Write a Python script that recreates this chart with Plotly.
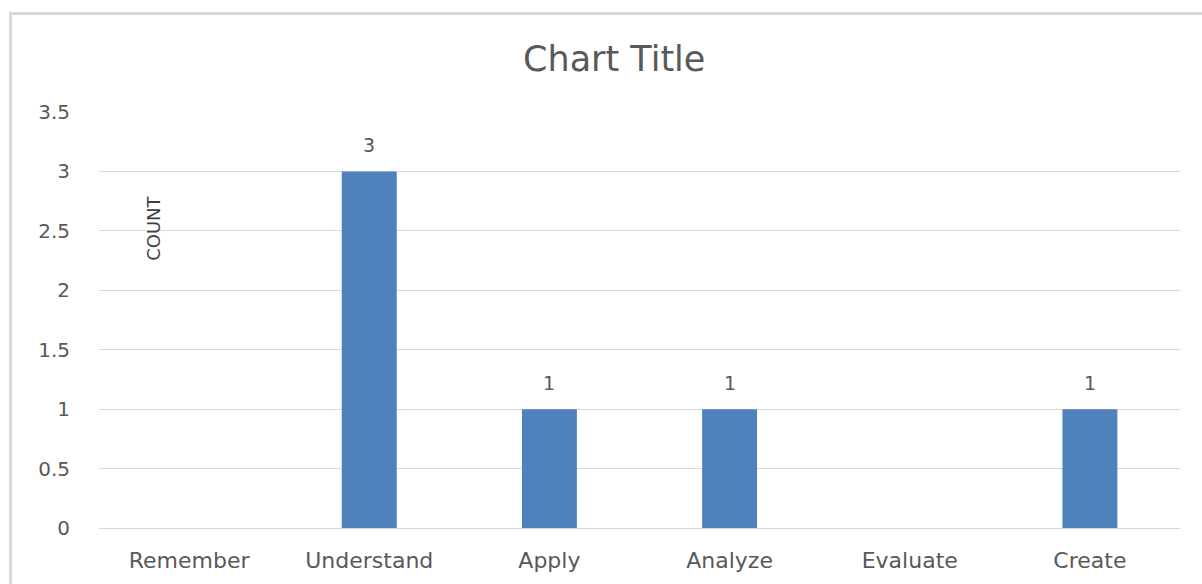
import plotly.graph_objects as go

categories = ["Remember", "Understand", "Apply", "Analyze", "Evaluate", "Create"]
counts = [None, 3, 1, 1, None, 1]
y_ticks = [0, 0.5, 1, 1.5, 2, 2.5, 3, 3.5]
y_tick_labels = ["0", "0.5", "1", "1.5", "2", "2.5", "3", "3.5"]

BAR_COLOR = "#4F81BD"
TEXT_COLOR = "#595959"
GRID_COLOR = "#D9D9D9"
FONT = "DejaVu Sans, Verdana, sans-serif"

fig = go.Figure()
fig.add_trace(go.Bar(
    x=categories,
    y=counts,
    marker=dict(color=BAR_COLOR, line=dict(width=0)),
    showlegend=False,
    hoverinfo="x+y",
))

# value labels above each bar
for cat, val in zip(categories, counts):
    if val is None:
        continue
    fig.add_annotation(
        x=cat, y=val, text=str(val), showarrow=False,
        yanchor="bottom", yshift=13,
        font=dict(family=FONT, size=19, color=TEXT_COLOR),
    )

# rotated "COUNT" label inside the plot area
fig.add_annotation(
    x=0.0503, y=0.72, xref="paper", yref="paper", text="COUNT",
    xanchor="center", yanchor="middle",
    textangle=-90, showarrow=False,
    font=dict(family=FONT, size=18, color="#404040"),
)

# chart border
fig.add_shape(
    type="rect", xref="paper", yref="paper",
    x0=-0.0818, x1=1.03, y0=-0.2, y1=1.2365,
    line=dict(color=GRID_COLOR, width=3), fillcolor="rgba(0,0,0,0)",
    layer="below",
)

fig.update_layout(
    width=1202, height=584,
    margin=dict(l=99, r=22, t=112, b=56),
    paper_bgcolor="white", plot_bgcolor="white",
    bargap=0.695,
    title=dict(
        text="Chart Title", x=0.511, xanchor="center", y=0.9, yanchor="middle",
        font=dict(family=FONT, size=35, color=TEXT_COLOR),
    ),
    font=dict(family=FONT, color=TEXT_COLOR),
)
fig.update_xaxes(
    showline=False, showgrid=False, ticks="",
    tickfont=dict(family=FONT, size=22, color=TEXT_COLOR),
    ticklabelstandoff=17,
)
fig.update_yaxes(
    range=[0, 3.5], tickvals=y_ticks, ticktext=y_tick_labels,
    showgrid=True, gridcolor=GRID_COLOR, gridwidth=1,
    zeroline=True, zerolinecolor=GRID_COLOR, zerolinewidth=1,
    showline=False, ticks="",
    tickfont=dict(family=FONT, size=20, color=TEXT_COLOR),
    ticklabelstandoff=28,
)

fig.write_html("out.html")
